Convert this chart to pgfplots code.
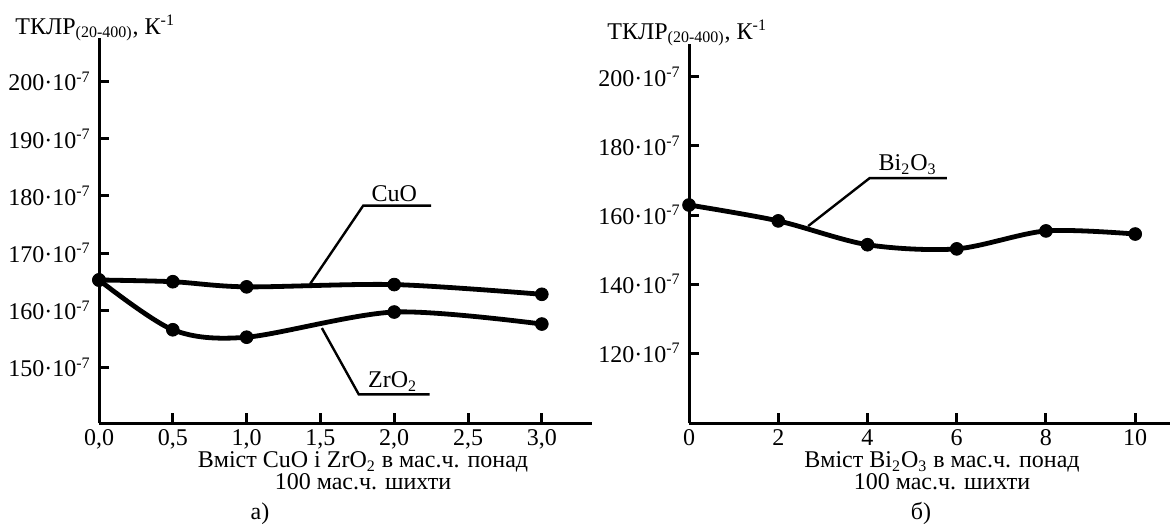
\documentclass[border=0pt]{standalone}
\usepackage{fontspec}
\setmainfont{Liberation Serif}
\usepackage{pgfplots}
\pgfplotsset{compat=1.18}
\begin{document}
\fontsize{12}{14}\selectfont
\begin{tikzpicture}[font=\fontsize{12}{14}\selectfont]
\path[use as bounding box] (0pt,0pt) rectangle (585pt,-262.5pt);
\pgfplotsset{myax/.style={
  scale only axis, anchor=south west, clip=false,
  axis lines=left, axis line style={-, line width=1.5pt, black},
  tick align=inside, major tick length=5pt,
  tick style={line width=1.5pt, black},
  tick label style={font=\fontsize{12}{14}\selectfont},
  xticklabel style={inner sep=0.5pt, yshift=-2.5pt},
}}
\pgfplotsset{dat/.style={black, line width=2.4pt, smooth, mark=*, mark size=3.2pt, mark options={line width=0.4pt, fill=black, draw=black}}}
% ---------- a) ----------
\begin{axis}[myax, at={(49.5pt,-211.5pt)}, width=246.5pt, height=192.5pt,
  xmin=0, xmax=3.34, ymin=140.3, ymax=207.6,
  xtick={0,0.5,1,1.5,2,2.5,3},
  xticklabels={{0,0},{0,5},{1,0},{1,5},{2,0},{2,5},{3,0}},
  ytick={150,160,170,180,190,200},
  yticklabels={150·10\textsuperscript{-7},160·10\textsuperscript{-7},170·10\textsuperscript{-7},180·10\textsuperscript{-7},190·10\textsuperscript{-7},200·10\textsuperscript{-7}}]
\addplot[dat] coordinates {(0,165.3)(0.5,165.0)(1.0,164.1)(2.0,164.5)(3.0,162.8)};
\addplot[dat] coordinates {(0,165.3)(0.5,156.6)(1.0,155.3)(2.0,159.7)(3.0,157.6)};
\draw[line width=1.2pt] (axis cs:1.43,164.6) -- (axis cs:1.79,178.3) -- (axis cs:2.25,178.3);
\node[anchor=south, inner sep=1.5pt] at (axis cs:2.0,178.3) {CuO};
\draw[line width=1.2pt] (axis cs:1.51,156.9) -- (axis cs:1.76,145.3) -- (axis cs:2.24,145.3);
\node[anchor=south, inner sep=1.5pt] at (axis cs:1.99,145.3) {ZrO\textsubscript{2}};
\end{axis}
% ---------- b) ----------
\begin{axis}[myax, at={(344.5pt,-211.5pt)}, width=240.5pt, height=189.5pt,
  xmin=0, xmax=10.78, ymin=99.8, ymax=209.5,
  xtick={0,2,4,6,8,10},
  xticklabels={0,2,4,6,8,10},
  ytick={120,140,160,180,200},
  yticklabels={120·10\textsuperscript{-7},140·10\textsuperscript{-7},160·10\textsuperscript{-7},180·10\textsuperscript{-7},200·10\textsuperscript{-7}}]
\addplot[dat] coordinates {(0,162.9)(2,158.3)(4,151.4)(6,150.2)(8,155.4)(10,154.5)};
\draw[line width=1.2pt] (axis cs:2.67,156.8) -- (axis cs:4.05,170.7) -- (axis cs:5.78,170.7);
\node[anchor=south, inner sep=1.5pt] at (axis cs:4.9,170.7) {Bi\textsubscript{2}O\textsubscript{3}};
\end{axis}
% ---------- titles and labels ----------
\node[anchor=west, inner sep=0pt] at (7.5pt,-14pt) {ТКЛР\textsubscript{(20-400)}, К\textsuperscript{-1}};
\node[anchor=west, inner sep=0pt] at (303.5pt,-16.5pt) {ТКЛР\textsubscript{(20-400)}, К\textsuperscript{-1}};
\node[anchor=north, inner sep=0pt, align=center, font=\fontsize{12}{11}\selectfont] at (181.5pt,-225.6pt) {Вміст CuO і ZrO\textsubscript{2} в мас.ч. понад\\100 мас.ч. шихти};
\node[anchor=base, inner sep=0pt] at (130pt,-259.5pt) {а)};
\node[anchor=north, inner sep=0pt, align=center, font=\fontsize{12}{11}\selectfont] at (471pt,-225.6pt) {Вміст Bi\textsubscript{2}O\textsubscript{3} в мас.ч. понад\\100 мас.ч. шихти};
\node[anchor=base, inner sep=0pt] at (460.5pt,-259.5pt) {б)};
\end{tikzpicture}
\end{document}
